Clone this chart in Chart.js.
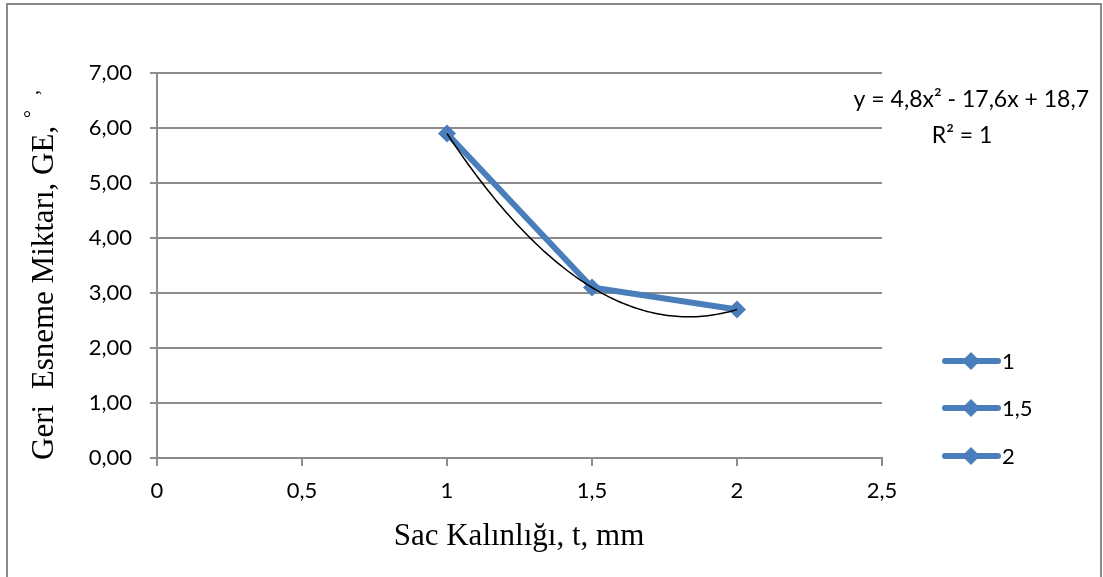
<!DOCTYPE html>
<html>
<head>
<meta charset="utf-8">
<script src="https://cdn.jsdelivr.net/npm/chart.js@4.4.1/dist/chart.umd.min.js"></script>
<style>
  html, body { margin: 0; padding: 0; background: #ffffff; }
  #wrap { position: relative; width: 1103px; height: 577px; }
</style>
</head>
<body>
<div id="wrap"><canvas id="c" width="1103" height="577"></canvas></div>
<script>
// Measured springback versus sheet thickness
const thickness = [1, 1.5, 2];
const springback = [5.9, 3.1, 2.7];

// Second-order trendline, y = a*x^2 + b*x + c
const trendCoeffs = [4.8, -17.6, 18.7];
const trendLabel = 'y = 4,8x² - 17,6x + 18,7';
const r2Label = 'R² = 1';

// Legend entries and axis text
const legendLabels = ['1', '1,5', '2'];
const xTitle = 'Sac Kalınlığı, t, mm';
const yTitle = 'Geri  Esneme Miktarı, GE, ';
const yTitleSup = '°   ,';

const BLUE = '#4A7EBB';
const GRID = '#8c8c8c';
const SANS = 'Lato, "Open Sans", sans-serif';
const SERIF = '"Liberation Serif", "Times New Roman", serif';

const trendPoints = [];
for (let i = 0; i <= 100; i++) {
  const x = thickness[0] + (thickness[thickness.length - 1] - thickness[0]) * i / 100;
  trendPoints.push({ x, y: trendCoeffs[0] * x * x + trendCoeffs[1] * x + trendCoeffs[2] });
}

const decorations = {
  id: 'decorations',
  afterDraw(chart) {
    const ctx = chart.ctx;
    ctx.save();
    // outer frame
    ctx.strokeStyle = '#8a8a8a';
    ctx.lineWidth = 2;
    ctx.beginPath();
    ctx.moveTo(7, 600); ctx.lineTo(7, 4); ctx.lineTo(1101, 4); ctx.lineTo(1101, 600);
    ctx.stroke();

    // axis titles
    ctx.fillStyle = '#000';
    ctx.font = '31px ' + SERIF;
    ctx.textAlign = 'center';
    ctx.textBaseline = 'middle';
    ctx.fillText(xTitle, 519, 537);

    ctx.save();
    ctx.translate(45, 275);
    ctx.rotate(-Math.PI / 2);
    ctx.font = '31px ' + SERIF;
    const wMain = ctx.measureText(yTitle).width;
    ctx.font = '20px ' + SERIF;
    const wSup = ctx.measureText(yTitleSup).width;
    const start = -(wMain + wSup) / 2;
    ctx.textAlign = 'left';
    ctx.font = '31px ' + SERIF;
    ctx.fillText(yTitle, start, 0);
    ctx.font = '20px ' + SERIF;
    ctx.fillText(yTitleSup, start + wMain, -12);
    ctx.restore();

    // trendline equation
    ctx.font = '23px ' + SANS;
    ctx.textAlign = 'right';
    ctx.fillText(trendLabel, 1089, 100);
    ctx.textAlign = 'center';
    ctx.fillText(r2Label, 962, 136);

    // legend
    const ys = [361, 408, 456];
    legendLabels.forEach((lab, i) => {
      const y = ys[i];
      ctx.strokeStyle = BLUE;
      ctx.lineWidth = 6;
      ctx.lineCap = 'round';
      ctx.beginPath();
      ctx.moveTo(945, y); ctx.lineTo(998, y);
      ctx.stroke();
      ctx.fillStyle = BLUE;
      ctx.beginPath();
      ctx.moveTo(971, y - 9); ctx.lineTo(980, y); ctx.lineTo(971, y + 9); ctx.lineTo(962, y);
      ctx.closePath();
      ctx.fill();
      ctx.fillStyle = '#000';
      ctx.textAlign = 'left';
      ctx.font = '22px ' + SANS;
      ctx.fillText(lab, 1002, y + 1);
    });
    ctx.restore();
  }
};

new Chart(document.getElementById('c'), {
  type: 'scatter',
  data: {
    datasets: [
      {
        label: 'trend',
        data: trendPoints,
        showLine: true,
        borderColor: '#000000',
        borderWidth: 1.5,
        pointRadius: 0,
        fill: false,
        order: 0
      },
      {
        label: 'series',
        data: thickness.map((x, i) => ({ x, y: springback[i] })),
        showLine: true,
        borderColor: BLUE,
        backgroundColor: BLUE,
        borderWidth: 6,
        pointStyle: 'rectRot',
        pointRadius: 9,
        pointBorderWidth: 0,
        fill: false,
        order: 1
      }
    ]
  },
  options: {
    responsive: false,
    animation: false,
    layout: { padding: { top: 73, right: 221, left: 0, bottom: 0 } },
    plugins: { legend: { display: false }, tooltip: { enabled: false } },
    scales: {
      x: {
        type: 'linear',
        min: 0, max: 2.5,
        afterFit: s => { s.height = 119; },
        ticks: {
          stepSize: 0.5,
          color: '#000',
          font: { family: SANS, size: 22 },
          padding: 12,
          callback: v => String(v).replace('.', ',')
        },
        grid: { drawOnChartArea: false, color: GRID, lineWidth: 2, tickLength: 8 },
        border: { display: true, color: GRID, width: 2 }
      },
      y: {
        min: 0, max: 7,
        afterFit: s => { s.width = 157; },
        ticks: {
          stepSize: 1,
          color: '#000',
          font: { family: SANS, size: 22 },
          padding: 18,
          callback: v => v.toFixed(2).replace('.', ',')
        },
        grid: { color: GRID, lineWidth: 2, tickLength: 7 },
        border: { display: true, color: GRID, width: 2 }
      }
    }
  },
  plugins: [decorations]
});
</script>
</body>
</html>
